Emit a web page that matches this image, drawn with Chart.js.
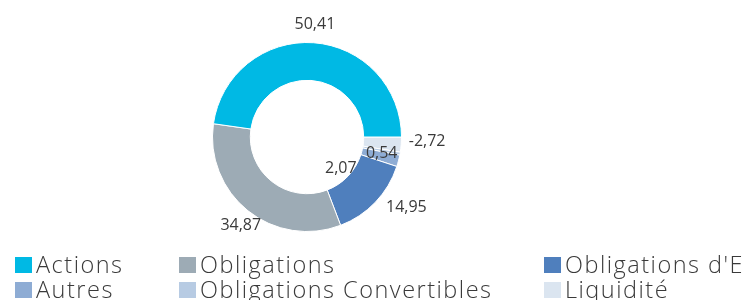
<!DOCTYPE html>
<html>
<head>
<meta charset="utf-8">
<script src="https://cdn.jsdelivr.net/npm/chart.js@4"></script>
<style>
  html, body { margin: 0; padding: 0; background: #fff; overflow: hidden; }
  #wrap { position: relative; width: 746px; height: 300px; overflow: hidden; }
  #chart { position: absolute; left: 0; top: 0; }
  .legend-item {
    position: absolute; height: 22px; line-height: 22px; white-space: nowrap;
    font-family: "Open Sans", sans-serif; font-weight: 300; font-size: 23.5px;
    letter-spacing: 1.5px; color: #3a3a3a;
  }
  .legend-item .box { display: inline-block; width: 17px; height: 16px; margin-right: 4px; vertical-align: 0; }
</style>
</head>
<body>
<div id="wrap">
  <canvas id="chart" width="746" height="300"></canvas>
</div>
<script>
// data, in legend order
const categories = ['Actions', 'Obligations', "Obligations d'E", 'Autres', 'Obligations Convertibles', 'Liquidité'];
const values = [50.41, 34.87, 14.95, 2.07, 0.54, -2.72];
const colors = ['#00b9e4', '#9dabb5', '#4f7fbd', '#8eacd4', '#b7cbe3', '#dbe5f0'];

// small nudges for the value labels (px), same order as categories
const labelNudge = [[0, 0], [4, 1], [18, -7], [-75, 3], [-36, -3], [8, -5]];

// the reference runs counter-clockwise from 3 o'clock, so feed the slices reversed
const order = categories.map((_, i) => categories.length - 1 - i);

const valueLabels = {
  id: 'valueLabels',
  afterDatasetsDraw(chart) {
    const ctx = chart.ctx;
    const meta = chart.getDatasetMeta(0);
    ctx.save();
    ctx.font = '16px "Open Sans", sans-serif';
    ctx.fillStyle = '#3a3a3a';
    ctx.textAlign = 'center';
    ctx.textBaseline = 'middle';
    meta.data.forEach((arc, j) => {
      const i = order[j];
      const p = arc.getProps(['x', 'y', 'startAngle', 'endAngle', 'outerRadius'], true);
      const mid = (p.startAngle + p.endAngle) / 2;
      const r = p.outerRadius + 18;
      const x = p.x + Math.cos(mid) * r + labelNudge[i][0];
      const y = p.y + Math.sin(mid) * r + labelNudge[i][1];
      ctx.fillText(values[i].toFixed(2).replace('.', ','), x, y);
    });
    ctx.restore();
  }
};

new Chart(document.getElementById('chart'), {
  type: 'doughnut',
  data: {
    labels: order.map(i => categories[i]),
    datasets: [{
      data: order.map(i => values[i]),
      backgroundColor: order.map(i => colors[i]),
      borderColor: '#ffffff',
      borderWidth: 1
    }]
  },
  options: {
    responsive: false,
    animation: false,
    rotation: 90,
    cutout: '60%',
    layout: { padding: { top: 42, bottom: 68, left: 0, right: 132 } },
    plugins: { legend: { display: false }, tooltip: { enabled: false } }
  },
  plugins: [valueLabels]
});

// legend: 3 columns, 2 rows, clipped by the window like the reference
const colX = [15, 179, 544];
const rowY = [253, 278];
const wrap = document.getElementById('wrap');
categories.forEach((name, i) => {
  const item = document.createElement('div');
  item.className = 'legend-item';
  item.style.left = colX[i % 3] + 'px';
  item.style.top = rowY[Math.floor(i / 3)] + 'px';
  const box = document.createElement('span');
  box.className = 'box';
  box.style.background = colors[i];
  item.appendChild(box);
  item.appendChild(document.createTextNode(name));
  wrap.appendChild(item);
});
</script>
</body>
</html>
